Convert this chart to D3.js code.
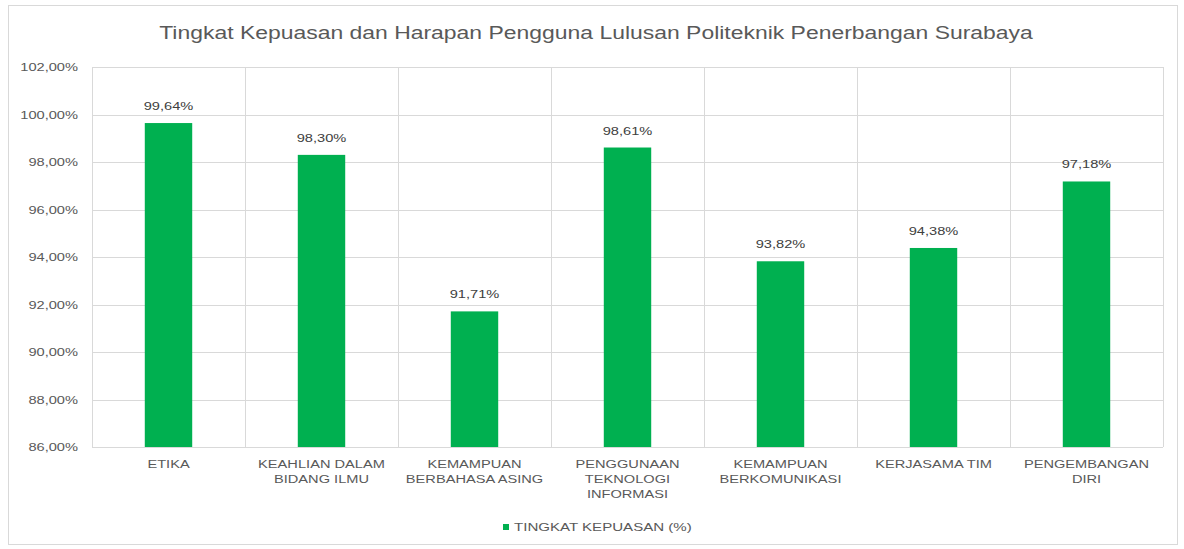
<!DOCTYPE html>
<html lang="en">
<head>
<meta charset="utf-8">
<script src="https://d3js.org/d3.v7.min.js"></script>
<style>
  body { margin: 0; background: #fff; }
  text { font-family: "Liberation Sans", Arial, sans-serif; }
</style>
</head>
<body>
<script type="text/javascript">

// data
var categories = [
  ["ETIKA"],
  ["KEAHLIAN DALAM", "BIDANG ILMU"],
  ["KEMAMPUAN", "BERBAHASA ASING"],
  ["PENGGUNAAN", "TEKNOLOGI", "INFORMASI"],
  ["KEMAMPUAN", "BERKOMUNIKASI"],
  ["KERJASAMA TIM"],
  ["PENGEMBANGAN", "DIRI"]
];
var values = [99.64, 98.30, 91.71, 98.61, 93.82, 94.38, 97.18];
var yTicks = [86, 88, 90, 92, 94, 96, 98, 100, 102];
var seriesName = "TINGKAT KEPUASAN (%)";
var title = "Tingkat Kepuasan dan Harapan Pengguna Lulusan Politeknik Penerbangan Surabaya";

var w = 1184, h = 549;
var margin = {left: 92, right: 21, top: 67, bottom: 102};
var green = "#00b050";
var sx = 1.33; // the reference text is stretched sideways

var svg = d3.select("body").append("svg")
  .attr("width", w)
  .attr("height", h);

// outer chart border
svg.append("rect")
  .attr("x", 8.5).attr("y", 5.5)
  .attr("width", 1169).attr("height", 539)
  .attr("fill", "#fff")
  .attr("stroke", "#d9d9d9");

var x = d3.scaleBand()
  .domain(d3.range(categories.length))
  .range([margin.left, w - margin.right])
  .paddingInner(0).paddingOuter(0);

var y = d3.scaleLinear()
  .domain([86, 102])
  .range([h - margin.bottom, margin.top]);

function fmt(v) {
  return d3.format(".2f")(v).replace(".", ",") + "%";
}

function place(px, py, s) {
  return "translate(" + px + "," + py + ") scale(" + (s || sx) + ",1)";
}

// horizontal grid
svg.append("g")
  .selectAll("line")
  .data(yTicks)
  .enter().append("line")
  .attr("x1", margin.left).attr("x2", w - margin.right)
  .attr("y1", d => Math.round(y(d)) + 0.5)
  .attr("y2", d => Math.round(y(d)) + 0.5)
  .attr("stroke", "#d9d9d9");

// vertical category separators
svg.append("g")
  .selectAll("line")
  .data(d3.range(categories.length + 1))
  .enter().append("line")
  .attr("x1", d => Math.round(margin.left + d * x.bandwidth()) + 0.5)
  .attr("x2", d => Math.round(margin.left + d * x.bandwidth()) + 0.5)
  .attr("y1", y(102))
  .attr("y2", y(86))
  .attr("stroke", "#d9d9d9");

// y labels
svg.append("g")
  .selectAll("text")
  .data(yTicks)
  .enter().append("text")
  .attr("transform", d => place(margin.left - 14, y(d) + 4))
  .attr("text-anchor", "end")
  .attr("font-size", 11)
  .attr("fill", "#595959")
  .text(d => fmt(d));

// bars
var bw = x.bandwidth() * 0.31;
svg.append("g")
  .selectAll("rect")
  .data(values)
  .enter().append("rect")
  .attr("x", (d, i) => x(i) + (x.bandwidth() - bw) / 2)
  .attr("y", d => y(d))
  .attr("width", bw)
  .attr("height", d => y(86) - y(d))
  .attr("fill", green);

// value labels
svg.append("g")
  .selectAll("text")
  .data(values)
  .enter().append("text")
  .attr("transform", (d, i) => place(x(i) + x.bandwidth() / 2, y(d) - 13))
  .attr("text-anchor", "middle")
  .attr("font-size", 11)
  .attr("fill", "#404040")
  .text(d => fmt(d));

// category labels
var cat = svg.append("g")
  .selectAll("text")
  .data(categories)
  .enter().append("text")
  .attr("transform", (d, i) => place(x(i) + x.bandwidth() / 2, y(86) + 21))
  .attr("text-anchor", "middle")
  .attr("font-size", 11)
  .attr("fill", "#595959");
cat.selectAll("tspan")
  .data(d => d)
  .enter().append("tspan")
  .attr("x", 0)
  .attr("dy", (d, i) => i === 0 ? 0 : 15)
  .text(d => d);

// title
svg.append("text")
  .attr("transform", place(w / 2 + 4, 39, 1.24))
  .attr("text-anchor", "middle")
  .attr("font-size", 18.5)
  .attr("fill", "#595959")
  .text(title);

// legend
var lg = svg.append("g").attr("transform", "translate(503,531)");
lg.append("rect")
  .attr("x", 0).attr("y", -7)
  .attr("width", 6).attr("height", 6)
  .attr("fill", green);
lg.append("text")
  .attr("transform", place(11, 0, 1.37))
  .attr("font-size", 11)
  .attr("fill", "#595959")
  .text(seriesName);

</script>
</body>
</html>
